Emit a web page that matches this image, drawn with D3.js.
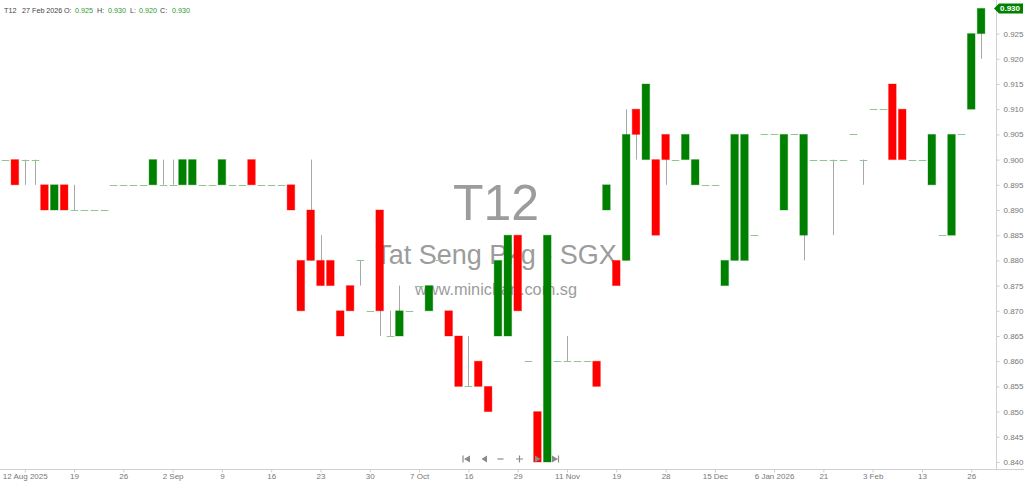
<!DOCTYPE html>
<html><head><meta charset="utf-8">
<script src="https://cdn.jsdelivr.net/npm/d3@7"></script>
<style>html,body{margin:0;padding:0;background:#fff;overflow:hidden}svg{display:block}</style>
</head><body>
<svg id="c" width="1024" height="484"></svg>
<script>
// Daily OHLC for T12 (Tat Seng Pkg), 100 trading sessions ending 27 Feb 2026
const open  = [0.900,0.900,0.900,0.900,0.895,0.890,0.895,0.890,0.890,0.890,
               0.890,0.895,0.895,0.895,0.895,0.895,0.895,0.895,0.895,0.895,
               0.895,0.895,0.895,0.895,0.895,0.900,0.895,0.895,0.895,0.895,
               0.880,0.890,0.880,0.880,0.870,0.875,0.880,0.870,0.890,0.865,
               0.865,0.870,0.875,0.870,0.880,0.870,0.865,0.855,0.860,0.855,
               0.865,0.865,0.885,0.860,0.850,0.840,0.860,0.860,0.860,0.860,
               0.860,0.890,0.880,0.880,0.910,0.900,0.900,0.905,0.900,0.900,
               0.895,0.895,0.895,0.875,0.880,0.880,0.885,0.905,0.905,0.890,
               0.905,0.885,0.900,0.900,0.900,0.900,0.905,0.900,0.910,0.910,
               0.915,0.910,0.900,0.900,0.895,0.885,0.885,0.905,0.910,0.925];
const high  = [0.900,0.900,0.900,0.900,0.895,0.895,0.895,0.895,0.890,0.890,
               0.890,0.895,0.895,0.895,0.895,0.900,0.900,0.900,0.900,0.900,
               0.895,0.895,0.900,0.895,0.895,0.900,0.895,0.895,0.895,0.895,
               0.880,0.900,0.885,0.880,0.870,0.875,0.880,0.870,0.890,0.870,
               0.875,0.870,0.875,0.875,0.880,0.870,0.865,0.865,0.860,0.855,
               0.880,0.885,0.885,0.860,0.850,0.885,0.860,0.865,0.860,0.860,
               0.860,0.895,0.880,0.910,0.910,0.915,0.900,0.905,0.900,0.905,
               0.900,0.895,0.895,0.880,0.905,0.905,0.885,0.905,0.905,0.905,
               0.905,0.905,0.900,0.900,0.900,0.900,0.905,0.900,0.910,0.910,
               0.915,0.910,0.900,0.900,0.905,0.885,0.905,0.905,0.925,0.930];
const low   = [0.900,0.895,0.895,0.895,0.890,0.890,0.890,0.890,0.890,0.890,
               0.890,0.895,0.895,0.895,0.895,0.895,0.895,0.895,0.895,0.895,
               0.895,0.895,0.895,0.895,0.895,0.895,0.895,0.895,0.895,0.890,
               0.870,0.880,0.875,0.875,0.865,0.870,0.875,0.870,0.865,0.865,
               0.865,0.870,0.875,0.870,0.880,0.865,0.855,0.855,0.855,0.850,
               0.865,0.865,0.870,0.860,0.840,0.840,0.860,0.860,0.860,0.860,
               0.855,0.890,0.875,0.880,0.900,0.900,0.885,0.895,0.900,0.900,
               0.895,0.895,0.895,0.875,0.880,0.880,0.885,0.905,0.905,0.890,
               0.905,0.880,0.900,0.900,0.885,0.900,0.905,0.895,0.910,0.910,
               0.900,0.900,0.900,0.900,0.895,0.885,0.885,0.905,0.910,0.920];
const close = [0.900,0.895,0.900,0.900,0.890,0.895,0.890,0.890,0.890,0.890,
               0.890,0.895,0.895,0.895,0.895,0.900,0.895,0.895,0.900,0.900,
               0.895,0.895,0.900,0.895,0.895,0.895,0.895,0.895,0.895,0.890,
               0.870,0.880,0.875,0.875,0.865,0.870,0.880,0.870,0.870,0.865,
               0.870,0.870,0.875,0.875,0.880,0.865,0.855,0.855,0.855,0.850,
               0.880,0.885,0.870,0.860,0.840,0.885,0.860,0.860,0.860,0.860,
               0.855,0.895,0.875,0.905,0.905,0.915,0.885,0.900,0.900,0.905,
               0.900,0.895,0.895,0.880,0.905,0.905,0.885,0.905,0.905,0.905,
               0.905,0.905,0.900,0.900,0.900,0.900,0.905,0.900,0.910,0.910,
               0.900,0.900,0.900,0.900,0.905,0.885,0.905,0.905,0.925,0.930];
const xTickIndex  = [2,7,12,17,22,27,32,37,42,47,52,57,62,67,72,78,83,88,93,98];
const xTickLabels = ["12 Aug 2025","19","26","2 Sep","9","16","23","30","7 Oct","16",
                     "29","11 Nov","19","28","15 Dec","6 Jan 2026","21","3 Feb","13","26"];
const yTicks = [0.840,0.845,0.850,0.855,0.860,0.865,0.870,0.875,0.880,0.885,
                0.890,0.895,0.900,0.905,0.910,0.915,0.920,0.925];
const lastPrice = 0.930;
const header = {sym:"T12", date:"27 Feb 2026", o:"0.925", h:"0.930", l:"0.920", c:"0.930"};

const bars = open.map((o,i)=>({i,o,h:high[i],l:low[i],c:close[i]}));
const svg = d3.select("#c");
const F = "'Liberation Sans', Arial, sans-serif";
const x = d3.scaleLinear().domain([0,99]).range([5,981.1]);
const y = d3.scaleLinear().domain([0.840,0.930]).range([462,8.4]);
const GREEN="#008000", RED="#ff0000", WICK="#a8a8a8", FLAT="#8fc88f";
const bw = 7.6;

// watermark
const wm = svg.append("g").attr("fill","#9c9c9c").attr("font-family",F).attr("text-anchor","middle");
wm.append("text").attr("x",496).attr("y",220).attr("font-size",50).text("T12");
wm.append("text").attr("x",496).attr("y",264).attr("font-size",27).text("Tat Seng Pkg - SGX");
wm.append("text").attr("x",496).attr("y",295).attr("font-size",16.3).text("www.minichart.com.sg");

// axes lines
svg.append("line").attr("x1",996.5).attr("x2",996.5).attr("y1",0).attr("y2",469).attr("stroke","#d0d0d0");
svg.append("line").attr("x1",0).attr("x2",1024).attr("y1",469.5).attr("y2",469.5).attr("stroke","#d0d0d0");

// y axis
const ya = svg.append("g").attr("transform","translate(996.5,0)")
  .call(d3.axisRight(y).tickValues(yTicks).tickSize(3).tickFormat(d3.format(".3f")));
ya.select(".domain").remove();
ya.selectAll("line").attr("stroke","#ccc");
ya.selectAll("text").attr("fill","#777").attr("font-family",F).attr("font-size",8).attr("dx",1);

// x axis
const xa = svg.append("g").attr("transform","translate(0,469.5)")
  .call(d3.axisBottom(x).tickValues(xTickIndex).tickSize(3).tickFormat((d,k)=>xTickLabels[k]));
xa.select(".domain").remove();
xa.selectAll("line").attr("stroke","#ccc");
xa.selectAll("text").attr("fill","#777").attr("font-family",F).attr("font-size",8).attr("dy","0.45em");

// candles
const g = svg.append("g");
bars.forEach(b=>{
  const cx = Math.round(x(b.i))+0.5;
  if (b.h > Math.max(b.o,b.c) || b.l < Math.min(b.o,b.c)) {
    g.append("line").attr("x1",cx).attr("x2",cx).attr("y1",y(b.h)).attr("y2",y(b.l))
      .attr("stroke",WICK).attr("stroke-width",1);
  }
  if (b.o === b.c) {
    g.append("line").attr("x1",cx-bw/2).attr("x2",cx+bw/2).attr("y1",Math.round(y(b.c))+0.5).attr("y2",Math.round(y(b.c))+0.5)
      .attr("stroke",FLAT).attr("stroke-width",1);
  } else {
    const col = b.c > b.o ? GREEN : RED;
    const top = y(Math.max(b.o,b.c)), bot = y(Math.min(b.o,b.c));
    g.append("rect").attr("x",x(b.i)-bw/2).attr("y",top).attr("width",bw).attr("height",bot-top)
      .attr("fill",col).attr("stroke",col).attr("stroke-opacity",0.35).attr("stroke-width",1);
  }
});

// last price flag
const ly = y(lastPrice);
svg.append("path").attr("d",`M994,${ly} L999,${ly-5} L1023,${ly-5} L1023,${ly+5} L999,${ly+5} Z`).attr("fill",GREEN);
svg.append("text").attr("x",1000).attr("y",ly+3).attr("fill","#fff").attr("font-family",F)
  .attr("font-size",8).attr("font-weight","bold").text(d3.format(".3f")(lastPrice));

// header
const hd = svg.append("g").attr("font-family",F).attr("font-size",7.2).attr("fill","#444");
const hy = 12.5;
hd.append("text").attr("x",4).attr("y",hy).text(header.sym);
hd.append("text").attr("x",22).attr("y",hy).text(header.date);
[["O:",64,header.o,75],["H:",97,header.h,108],["L:",130,header.l,139],["C:",160,header.c,172]].forEach(([k,kx,v,vx])=>{
  hd.append("text").attr("x",kx).attr("y",hy).text(k);
  hd.append("text").attr("x",vx).attr("y",hy).attr("fill","#2a9a2a").text(v);
});

// navigation controls
const nav = svg.append("g").attr("fill","#8a8a8a").attr("stroke","#8a8a8a");
const ny = 459;
nav.append("path").attr("d",`M463,${ny-3.5} L463,${ny+3.5}`).attr("stroke-width",1.2).attr("fill","none");
nav.append("path").attr("d",`M470,${ny-3.5} L464,${ny} L470,${ny+3.5} Z`).attr("stroke","none");
nav.append("path").attr("d",`M487,${ny-3.5} L481.5,${ny} L487,${ny+3.5} Z`).attr("stroke","none");
nav.append("path").attr("d",`M497.5,${ny} L503.5,${ny}`).attr("stroke-width",1.2);
nav.append("path").attr("d",`M516,${ny} L523,${ny} M519.5,${ny-3.5} L519.5,${ny+3.5}`).attr("stroke-width",1.2);
nav.append("path").attr("d",`M535,${ny-3.5} L540.5,${ny} L535,${ny+3.5} Z`).attr("stroke","none");
nav.append("path").attr("d",`M552,${ny-3.5} L558,${ny} L552,${ny+3.5} Z`).attr("stroke","none");
nav.append("path").attr("d",`M558.5,${ny-3.5} L558.5,${ny+3.5}`).attr("stroke-width",1.2).attr("fill","none");
</script>
</body></html>
